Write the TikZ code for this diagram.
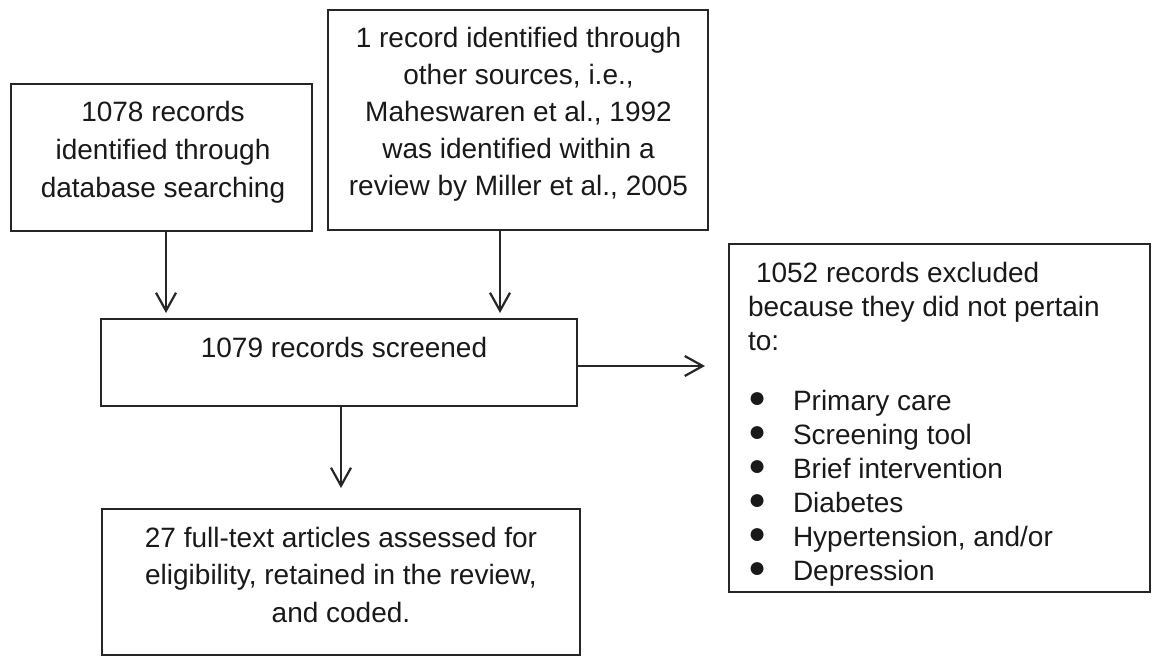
\documentclass[tikz,border=0pt]{standalone}
\usepackage{fontspec}
\setmainfont{Liberation Sans}
\usetikzlibrary{arrows.meta}
\newcommand{\bigbul}{\makebox[22.5pt][l]{\raisebox{1.4pt}{\fontsize{15}{17}\selectfont ●}}}
\begin{document}
\begin{tikzpicture}[x=0.5pt,y=-0.5pt,
  box/.style={draw=black!85, line width=1.1pt, inner sep=0pt, outer sep=0pt},
  txt/.style={inner sep=0pt, outer sep=0pt, text=black!90, font=\fontsize{14}{#1}\selectfont},
  arr/.style={draw=black!85, line width=1.1pt, -{Straight Barb[length=9pt,width=10pt,line width=1.1pt]}}
]
\useasboundingbox (0,0) rectangle (1152,656);
% boxes
\node[box, minimum width=150.5pt, minimum height=73.5pt] (b1) at (161.5,157.5) {};
\node[box, minimum width=190pt, minimum height=110pt] (b2) at (518,120) {};
\node[box, minimum width=238pt, minimum height=43.5pt] (b3) at (339,362.5) {};
\node[box, minimum width=210.5pt, minimum height=174pt] (b4) at (939.5,418) {};
\node[box, minimum width=239pt, minimum height=73pt] (b5) at (341,582) {};
% texts
\node[txt=19pt, anchor=north, align=center] (t1) at (163,101.5)
  {1078 records\\identified through\\database searching};
\node[txt=18.5pt, anchor=north, align=center] (t2) at (518.5,27)
  {1 record identified through\\other sources, i.e.,\\Maheswaren et al., 1992\\was identified within a\\review by Miller et al., 2005};
\node[txt=19pt, anchor=north, align=center] (t3) at (344,337)
  {1079 records screened};
\node[txt=18.75pt, anchor=north, align=center] (t5) at (341,527)
  {27 full-text articles assessed for\\eligibility, retained in the review,\\and coded.};
\node[txt=17pt, anchor=north west, align=left] (t4) at (748,262)
  {\hspace*{4pt}1052 records excluded\\because they did not pertain\\to:\\[13pt]
   \bigbul Primary care\\
   \bigbul Screening tool\\
   \bigbul Brief intervention\\
   \bigbul Diabetes\\
   \bigbul Hypertension, and/or\\
   \bigbul Depression};
% connectors
\draw[arr, shorten >=3pt] ([xshift=2.25pt]b1.south) -- ([xshift=2.25pt]b1.south |- b3.north);
\draw[arr, shorten >=3pt] ([xshift=-9pt]b2.south) -- ([xshift=-9pt]b2.south |- b3.north);
\draw[arr, shorten >=10.5pt] ([xshift=1pt]b3.south) -- ([xshift=1pt]b3.south |- b5.north);
\draw[arr, shorten >=12pt] ([yshift=-1.75pt]b3.east) -- ([yshift=-1.75pt]b3.east -| b4.west);
\end{tikzpicture}
\end{document}
